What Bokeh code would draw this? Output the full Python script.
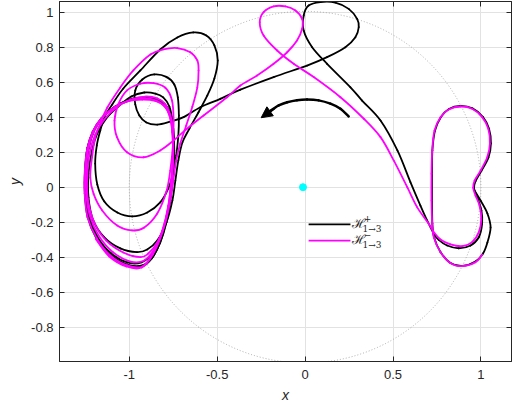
from bokeh.plotting import figure
from bokeh.models import (Range1d, LinearAxis, FixedTicker, NumeralTickFormatter,
                          Arrow, NormalHead, Label)
from bokeh.embed import file_html
from bokeh.resources import INLINE

# ---- H+ branch (black): lobe near L1, transfer arc, spiral onto the L3 orbit ----
hp_lobe_x = [0.964, 0.998, 1.037, 1.055, 1.037, 1.012, 0.969, 0.895, 0.827, 0.770,
             0.733, 0.724, 0.722, 0.722, 0.724, 0.739, 0.773, 0.818, 0.884, 0.952,
             1.012, 1.046, 1.057, 1.043, 1.003, 0.969, 0.961, 0.982, 1.003, 1.007,
             0.988, 0.941, 0.874, 0.808, 0.760, 0.732]
hp_lobe_y = [-0.019, -0.076, -0.150, -0.230, -0.316, -0.379, -0.425, -0.450, -0.433, -0.370,
             -0.285, -0.207, -0.076, 0.078, 0.210, 0.324, 0.401, 0.447, 0.464, 0.450,
             0.401, 0.335, 0.250, 0.170, 0.093, 0.033, -0.007, -0.066, -0.133, -0.209,
             -0.286, -0.333, -0.349, -0.333, -0.301, -0.266]

hp_transfer_x = [0.694, 0.656, 0.599, 0.525, 0.429, 0.324, 0.258, 0.125, 0.040, -0.008,
                 -0.008, 0.020, 0.087, 0.172, 0.248, 0.296, 0.305, 0.286, 0.229, 0.125,
                 0.011, -0.179, -0.368, -0.482, -0.596, -0.691, -0.767, -0.841, -0.903, -0.943,
                 -0.966, -0.966, -0.926, -0.858, -0.789, -0.744, -0.724, -0.718, -0.721, -0.733,
                 -0.750, -0.778, -0.824, -0.898, -0.983, -1.068, -1.142, -1.182, -1.194, -1.185,
                 -1.165]
hp_transfer_y = [-0.190, -0.105, 0.029, 0.210, 0.381, 0.495, 0.571, 0.705, 0.800, 0.895,
                 0.981, 1.038, 1.058, 1.055, 1.019, 0.962, 0.914, 0.857, 0.800, 0.743,
                 0.695, 0.629, 0.557, 0.505, 0.457, 0.400, 0.375, 0.358, 0.370, 0.410,
                 0.473, 0.553, 0.615, 0.644, 0.630, 0.587, 0.513, 0.410, 0.295, 0.181,
                 0.084, -0.007, -0.087, -0.145, -0.167, -0.145, -0.082, 0.015, 0.135, 0.238,
                 0.324]

hp_spiral_x = [-1.142, -1.097, -1.034, -0.937, -0.824, -0.727, -0.636, -0.562, -0.516, -0.497,
               -0.516, -0.556, -0.607, -0.658, -0.698, -0.721, -0.738, -0.755, -0.789, -0.841,
               -0.898, -0.956, -1.051, -1.142, -1.205, -1.232, -1.232, -1.212, -1.182, -1.131,
               -1.063, -0.989, -0.915, -0.852, -0.807, -0.772, -0.755, -0.747, -0.750, -0.761,
               -0.784, -0.818, -0.863, -0.932, -1.011, -1.102, -1.179, -1.228, -1.245, -1.245,
               -1.231, -1.199, -1.148, -1.080, -1.000, -0.920, -0.852, -0.801, -0.767, -0.750,
               -0.744, -0.750, -0.767, -0.789, -0.824, -0.869, -0.926, -1.011, -1.108, -1.185,
               -1.233, -1.251, -1.251, -1.237, -1.205, -1.154, -1.086, -1.005, -0.926, -0.858,
               -0.807, -0.772, -0.755, -0.750, -0.755, -0.770, -0.792, -0.827, -0.872, -0.929,
               -1.017, -1.114, -1.188, -1.237, -1.253, -1.252, -1.239, -1.208, -1.159, -1.091,
               -1.011, -0.932]
hp_spiral_y = [0.398, 0.473, 0.564, 0.667, 0.787, 0.855, 0.884, 0.867, 0.810, 0.724,
               0.621, 0.524, 0.427, 0.335, 0.255, 0.153, 0.038, -0.076, -0.202, -0.305,
               -0.356, -0.371, -0.350, -0.287, -0.190, -0.059, 0.078, 0.210, 0.307, 0.393,
               0.461, 0.518, 0.541, 0.535, 0.513, 0.461, 0.381, 0.267, 0.124, -0.019,
               -0.150, -0.282, -0.373, -0.430, -0.430, -0.379, -0.287, -0.167, -0.036, 0.095,
               0.221, 0.324, 0.404, 0.461, 0.501, 0.513, 0.507, 0.478, 0.427, 0.335,
               0.210, 0.067, -0.076, -0.202, -0.316, -0.402, -0.447, -0.442, -0.385, -0.287,
               -0.167, -0.036, 0.095, 0.227, 0.318, 0.398, 0.455, 0.495, 0.507, 0.501,
               0.473, 0.421, 0.335, 0.210, 0.067, -0.076, -0.202, -0.322, -0.407, -0.453,
               -0.445, -0.387, -0.290, -0.170, -0.036, 0.095, 0.221, 0.318, 0.393, 0.453,
               0.493, 0.504]

# ---- H- branch (magenta) ----
hm_lobe_x = [1.007, 0.969, 0.894, 0.827, 0.770, 0.732, 0.723, 0.719, 0.719, 0.723,
             0.736, 0.770, 0.817, 0.884, 0.950, 1.007, 1.042, 1.051, 1.036, 0.998,
             0.964, 0.956, 0.969, 0.992, 1.002, 0.988, 0.950, 0.894, 0.827, 0.770,
             0.732]
hm_lobe_y = [-0.385, -0.429, -0.451, -0.434, -0.371, -0.286, -0.209, -0.076, 0.077, 0.210,
             0.324, 0.400, 0.444, 0.461, 0.448, 0.400, 0.334, 0.248, 0.171, 0.095,
             0.038, -0.003, -0.047, -0.105, -0.181, -0.257, -0.314, -0.337, -0.327, -0.299,
             -0.257]

hm_transfer_x = [0.703, 0.637, 0.581, 0.504, 0.429, 0.334, 0.201, 0.049, -0.065, -0.159,
                 -0.236, -0.258, -0.236, -0.179, -0.112, -0.055, -0.017, -0.017, -0.046, -0.102,
                 -0.179, -0.273, -0.368, -0.444, -0.577, -0.672, -0.748, -0.824, -0.919, -1.013,
                 -1.070, -1.084, -1.061, -1.013, -0.937, -0.862, -0.795, -0.757, -0.748, -0.752,
                 -0.767, -0.789, -0.841, -0.915, -0.985, -1.069, -1.154, -1.203, -1.222, -1.212,
                 -1.194, -1.165]
hm_transfer_y = [-0.209, -0.114, 0.000, 0.153, 0.286, 0.391, 0.514, 0.629, 0.705, 0.781,
                 0.867, 0.943, 1.000, 1.033, 1.033, 1.010, 0.962, 0.905, 0.838, 0.771,
                 0.705, 0.638, 0.581, 0.514, 0.410, 0.334, 0.267, 0.210, 0.171, 0.200,
                 0.286, 0.381, 0.477, 0.553, 0.591, 0.594, 0.568, 0.495, 0.381, 0.238,
                 0.095, -0.025, -0.150, -0.230, -0.247, -0.219, -0.133, -0.038, 0.055, 0.170,
                 0.284, 0.364]

hm_spiral_x = [-1.125, -1.051, -0.977, -0.880, -0.807, -0.727, -0.653, -0.613, -0.606, -0.613,
               -0.641, -0.676, -0.710, -0.733, -0.750, -0.767, -0.795, -0.841, -0.892, -0.937,
               -1.034, -1.131, -1.199, -1.236, -1.239, -1.225, -1.194, -1.142, -1.074, -0.994,
               -0.909, -0.841, -0.795, -0.767, -0.752, -0.750, -0.758, -0.775, -0.807, -0.852,
               -0.915, -0.994, -1.091, -1.171, -1.225, -1.245, -1.245, -1.231, -1.199, -1.148,
               -1.080, -1.000, -0.915, -0.846, -0.798, -0.770, -0.755, -0.752, -0.761, -0.778,
               -0.812, -0.863, -0.926, -1.011, -1.108, -1.185, -1.237, -1.254, -1.253, -1.239,
               -1.208, -1.159, -1.091, -1.011, -0.926, -0.852, -0.801, -0.770, -0.755, -0.752,
               -0.761, -0.778, -0.812, -0.866, -0.929, -1.017, -1.114, -1.191]
hm_spiral_y = [0.455, 0.570, 0.667, 0.758, 0.787, 0.795, 0.771, 0.724, 0.667, 0.570,
               0.461, 0.353, 0.250, 0.153, 0.038, -0.076, -0.202, -0.316, -0.379, -0.400,
               -0.373, -0.305, -0.202, -0.065, 0.067, 0.198, 0.301, 0.387, 0.455, 0.501,
               0.518, 0.507, 0.473, 0.415, 0.324, 0.181, 0.038, -0.105, -0.236, -0.345,
               -0.419, -0.425, -0.373, -0.282, -0.162, -0.030, 0.107, 0.227, 0.324, 0.404,
               0.461, 0.495, 0.507, 0.495, 0.461, 0.404, 0.313, 0.181, 0.038, -0.105,
               -0.247, -0.373, -0.453, -0.447, -0.390, -0.293, -0.173, -0.036, 0.095, 0.221,
               0.318, 0.393, 0.450, 0.490, 0.501, 0.493, 0.464, 0.410, 0.318, 0.181,
               0.038, -0.110, -0.259, -0.385, -0.459, -0.453, -0.396, -0.296]

# primary body and direction-of-motion arrow
primary_x = [-0.012]
primary_y = [0.0]
arrow_x = [0.248, 0.201, 0.144, 0.077, 0.011, -0.046, -0.102, -0.150, -0.179, -0.216, -0.250]
arrow_y = [0.404, 0.448, 0.477, 0.496, 0.501, 0.497, 0.485, 0.467, 0.448, 0.423, 0.397]

x_ticks = [-1, -0.5, 0, 0.5, 1]
y_ticks = [-0.8, -0.6, -0.4, -0.2, 0, 0.2, 0.4, 0.6, 0.8, 1]

hp_x = hp_lobe_x + hp_transfer_x + hp_spiral_x
hp_y = hp_lobe_y + hp_transfer_y + hp_spiral_y
hm_x = hm_lobe_x + hm_transfer_x + hm_spiral_x
hm_y = hm_lobe_y + hm_transfer_y + hm_spiral_y

INK = "#262626"
FONT = "Liberation Sans"


def smooth_segments(xs, ys):
    """Cubic Bezier pieces passing through every point (Catmull-Rom tangents)."""
    n = len(xs)
    seg = dict(x0=[], y0=[], x1=[], y1=[], cx0=[], cy0=[], cx1=[], cy1=[])
    for i in range(n - 1):
        a = max(i - 1, 0)
        d = min(i + 2, n - 1)
        seg["x0"].append(xs[i]);     seg["y0"].append(ys[i])
        seg["x1"].append(xs[i + 1]); seg["y1"].append(ys[i + 1])
        seg["cx0"].append(xs[i] + (xs[i + 1] - xs[a]) / 6)
        seg["cy0"].append(ys[i] + (ys[i + 1] - ys[a]) / 6)
        seg["cx1"].append(xs[i + 1] - (xs[d] - xs[i]) / 6)
        seg["cy1"].append(ys[i + 1] - (ys[d] - ys[i]) / 6)
    return seg


p = figure(width=515, height=413, output_backend="svg", toolbar_location=None,
           x_range=Range1d(-1.397, 1.174), y_range=Range1d(-0.996, 1.061),
           min_border_left=59, min_border_right=4, min_border_top=1, min_border_bottom=52)
p.background_fill_color = "white"
p.border_fill_color = "white"
p.outline_line_color = INK
p.outline_line_width = 1

for ax, ticks in ((p.xaxis[0], x_ticks), (p.yaxis[0], y_ticks)):
    ax.ticker = FixedTicker(ticks=ticks)
    ax.formatter = NumeralTickFormatter(format="0.[0]")
    ax.major_tick_in = 5
    ax.major_tick_out = 0
    ax.minor_tick_line_color = None
    ax.axis_line_color = INK
    ax.major_tick_line_color = INK
    ax.major_label_text_font = FONT
    ax.major_label_text_font_size = "13px"
    ax.major_label_text_color = INK
    ax.axis_label_text_font = FONT
    ax.axis_label_text_font_size = "14px"
    ax.axis_label_text_font_style = "italic"
    ax.axis_label_text_color = INK

p.xaxis.axis_label = "x"
p.yaxis.axis_label = "y"
p.xaxis.major_label_standoff = 8
p.xaxis.axis_label_standoff = 5
p.yaxis.major_label_standoff = 6
p.yaxis.axis_label_standoff = 5

p.xgrid.ticker = FixedTicker(ticks=x_ticks)
p.ygrid.ticker = FixedTicker(ticks=y_ticks)
p.grid.grid_line_color = "#e2e2e2"
p.grid.grid_line_width = 1

# mirrored tick marks on the top and right edges (no labels)
for side, ticks in (("above", x_ticks), ("right", y_ticks)):
    ax = LinearAxis(ticker=FixedTicker(ticks=ticks), major_label_text_font_size="0px",
                    major_label_text_color=None, major_label_standoff=0,
                    major_tick_in=5, major_tick_out=0,
                    minor_tick_line_color=None, axis_line_color=INK,
                    major_tick_line_color=INK)
    p.add_layout(ax, side)

# unit circle guide
p.circle(x=[0], y=[0], radius=1, fill_color=None, line_color="#9a9a9a",
         line_width=0.8, line_dash="1 2")

p.bezier(line_color="black", line_width=1.8, line_cap="round",
         **smooth_segments(hp_x, hp_y))
p.bezier(line_color="#ff00ff", line_width=1.8, line_cap="round",
         **smooth_segments(hm_x, hm_y))

p.scatter(primary_x, primary_y, size=7, fill_color="#00ffff", line_color="#00ffff")

p.bezier(line_color="black", line_width=2.5, line_cap="round",
         **smooth_segments(arrow_x[:-1], arrow_y[:-1]))
p.add_layout(Arrow(end=NormalHead(size=11, fill_color="black", line_color="black"),
                   x_start=arrow_x[-3], y_start=arrow_y[-3],
                   x_end=arrow_x[-1], y_end=arrow_y[-1],
                   line_color="black", line_width=2.5))

# legend drawn by hand so the labels can carry sub/superscripts
leg_x0, leg_x1 = 0.020, 0.258
for yy, col, sup in ((-0.213, "black", "+"), (-0.305, "#ff00ff", "\u2212")):
    p.line([leg_x0, leg_x1], [yy, yy], line_color=col, line_width=1.8)
    p.add_layout(Label(x=0.266, y=yy + 0.008, text="\u210b", text_font="DejaVu Serif",
                       text_font_size="13px", text_baseline="middle", text_color=INK))
    p.add_layout(Label(x=0.334, y=yy + 0.032, text=sup, text_font="DejaVu Serif",
                       text_font_size="9px", text_baseline="middle", text_color=INK))
    p.add_layout(Label(x=0.326, y=yy - 0.026, text="1\u21923", text_font="DejaVu Serif",
                       text_font_size="9px", text_baseline="middle", text_color=INK))

open("out.html", "w").write(file_html(p, INLINE))
